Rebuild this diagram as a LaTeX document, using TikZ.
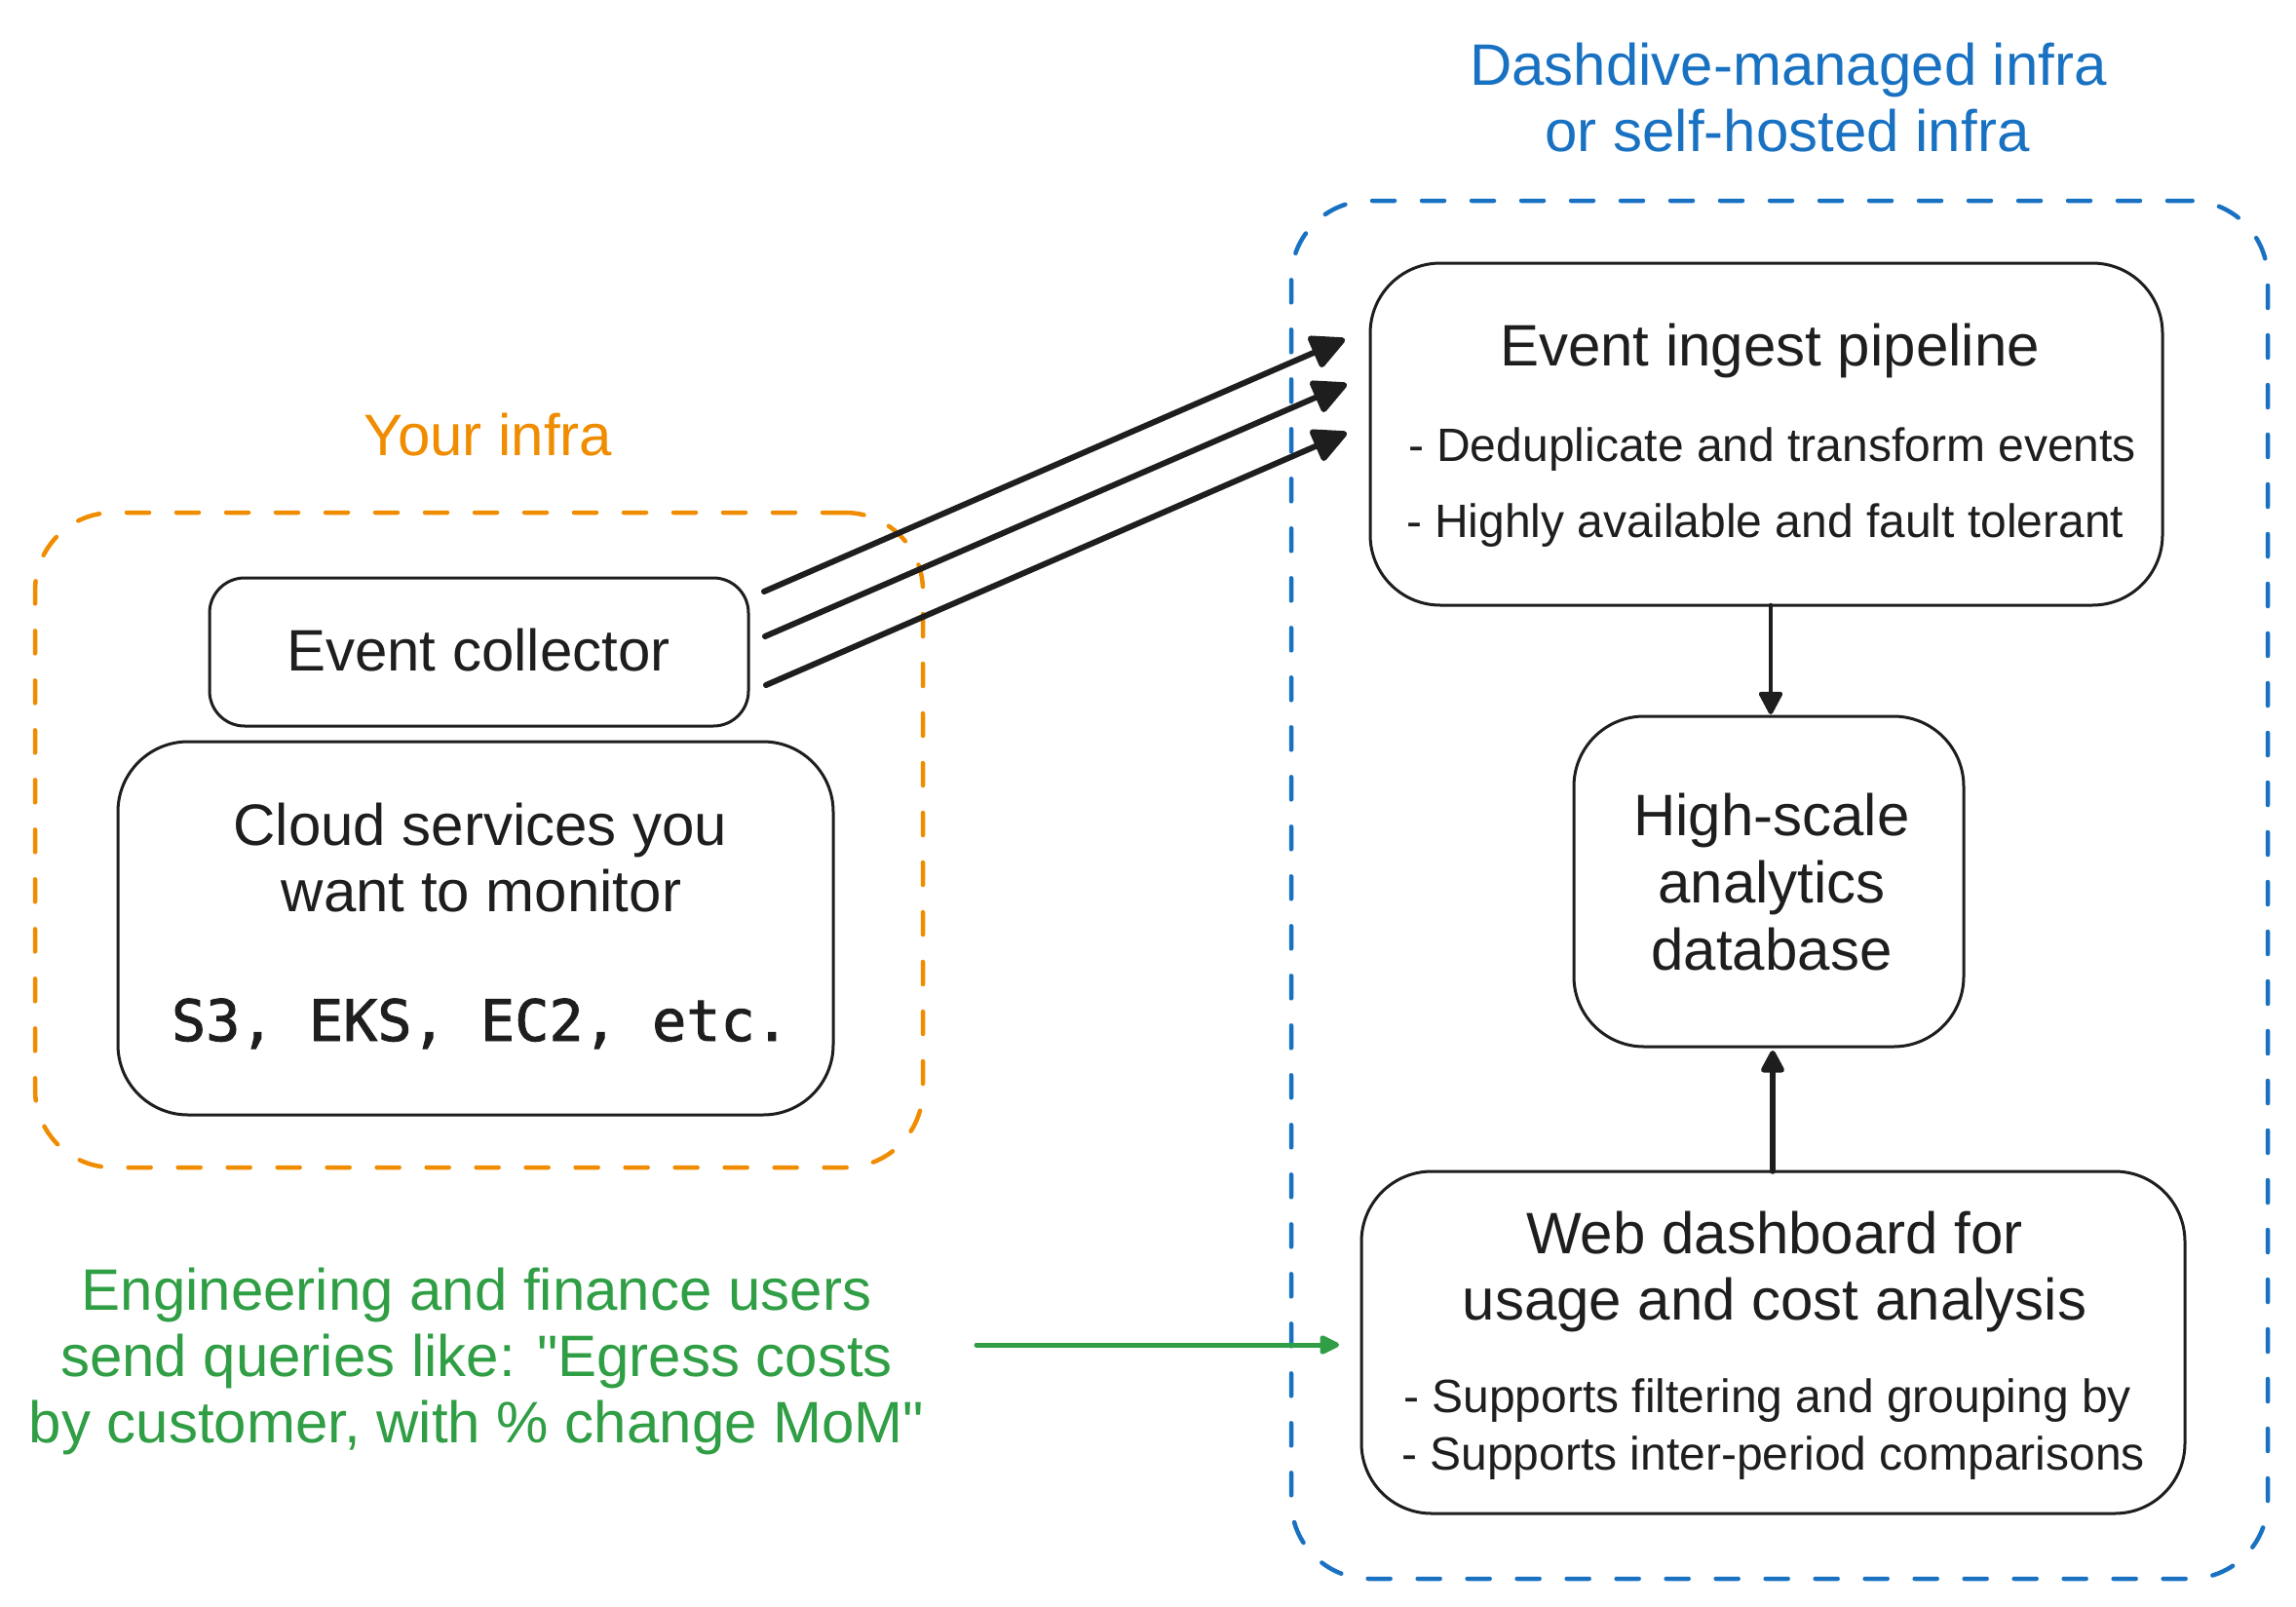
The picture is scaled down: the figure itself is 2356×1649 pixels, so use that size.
\documentclass[tikz,border=0pt]{standalone}
\usepackage{fontspec}
\setmainfont{Liberation Sans}
\newfontfamily\codefont[FakeBold=1.6]{DejaVu Sans Mono}
\usetikzlibrary{arrows.meta,calc}
\definecolor{ink}{HTML}{1E1E1E}
\definecolor{exblue}{HTML}{1971C2}
\definecolor{exorange}{HTML}{F08C00}
\definecolor{exgreen}{HTML}{2F9E44}
\begin{document}
\begin{tikzpicture}[x=1pt,y=-1pt,
  zone/.style={draw, line width=4.5pt, rounded corners=80pt, dash pattern=on 23pt off 28pt, line cap=round, inner sep=0pt, outer sep=0pt},
  box/.style={draw=ink, line width=3pt, rounded corners=72pt, inner sep=0pt, outer sep=0pt},
  bigtext/.style={anchor=base, inner sep=0pt, outer sep=0pt, font=\fontsize{60}{69}\selectfont, text=ink},
  smalltext/.style={anchor=base west, inner sep=0pt, outer sep=0pt, font=\fontsize{48}{55}\selectfont, text=ink},
  monotext/.style={anchor=base, inner sep=0pt, outer sep=0pt, font=\codefont\fontsize{58.5}{67}\selectfont, text=ink},
  feed/.style={draw=ink, line width=6pt, line cap=round, -{Triangle[length=39pt,width=37pt,round]}},
  vert/.style={draw=ink, line width=5pt, line cap=round, -{Triangle[length=26pt,width=26pt,round]}},
  query/.style={draw=exgreen, line width=5pt, line cap=round, -{Triangle[length=23pt,width=21pt,round]}},
]
\fill[white] (0,0) rectangle (2356,1649);
\useasboundingbox (0,0) rectangle (2356,1649);

% zones
\node[zone, draw=exblue, minimum width=1002pt, minimum height=1414pt] (managed) at (1826,913) {};
\node[zone, draw=exorange, minimum width=911pt, minimum height=672pt] (yours) at (491.5,862) {};

% zone labels
\node[bigtext, text=exblue] (mt1) at (1835,87) {Dashdive-managed infra};
\node[bigtext, text=exblue] (mt2) at (1834,155) {or self-hosted infra};
\node[bigtext, text=exorange] (yt) at (501,467) {Your infra};

% left boxes
\node[box, rounded corners=36pt, minimum width=553pt, minimum height=152pt] (coll) at (491.5,669) {};
\node[bigtext] (collt) at (491,688) {Event collector};
\node[box, minimum width=734pt, minimum height=383pt] (cloud) at (488,952.5) {};
\node[bigtext] (cloud1) at (493,867) {Cloud services you};
\node[bigtext] (cloud2) at (494,935) {want to monitor};
\node[monotext] (cloud3) at (493,1068) {S3, EKS, EC2, etc.};

% right boxes
\node[box, minimum width=813pt, minimum height=351pt] (ingest) at (1812.5,445.5) {};
\node[bigtext] (ingt) at (1816,375) {Event ingest pipeline};
\node[smalltext] (ingb1) at (1445,473) {- Deduplicate and transform events};
\node[smalltext] (ingb2) at (1443,551) {- Highly available and fault tolerant};

\node[box, minimum width=400pt, minimum height=339pt] (db) at (1815,904.5) {};
\node[bigtext] (db1) at (1818,857) {High-scale};
\node[bigtext] (db2) at (1818,926) {analytics};
\node[bigtext] (db3) at (1818,995) {database};

\node[box, minimum width=845pt, minimum height=351pt] (dash) at (1819.5,1377.5) {};
\node[bigtext] (dasht1) at (1821,1286) {Web dashboard for};
\node[bigtext] (dasht2) at (1821,1354) {usage and cost analysis};
\node[smalltext] (dashb1) at (1440,1449) {- Supports filtering and grouping by};
\node[smalltext] (dashb2) at (1438,1508) {- Supports inter-period comparisons};

% green note
\node[bigtext, text=exgreen] (g1) at (489,1344) {Engineering and finance users};
\node[bigtext, text=exgreen] (g2) at (489,1412) {send queries like: \textquotedbl Egress costs};
\node[bigtext, text=exgreen] (g3) at (489,1480) {by customer, with \% change MoM\textquotedbl};

% connectors
\coordinate (c1s) at (784,607);  \coordinate (c1e) at (1380,348);
\coordinate (c2s) at (785,653);  \coordinate (c2e) at (1382,394);
\coordinate (c3s) at (786,703);  \coordinate (c3e) at (1382,444);
\draw[feed] (c1s) -- (c1e);
\draw[feed] (c2s) -- (c2e);
\draw[feed] (c3s) -- (c3e);

\draw[vert, line width=4.5pt] ([xshift=2pt]ingest.south -| db.north) -- ([xshift=2pt,yshift=2pt]db.north);
\draw[vert, line width=5.5pt] ([xshift=4pt]dash.north -| db.south) -- ([xshift=4pt,yshift=-4pt]db.south);

\coordinate (gs) at (1002,1380);
\draw[query] (gs) -- ([xshift=-23pt]dash.west |- gs);
\end{tikzpicture}
\end{document}
